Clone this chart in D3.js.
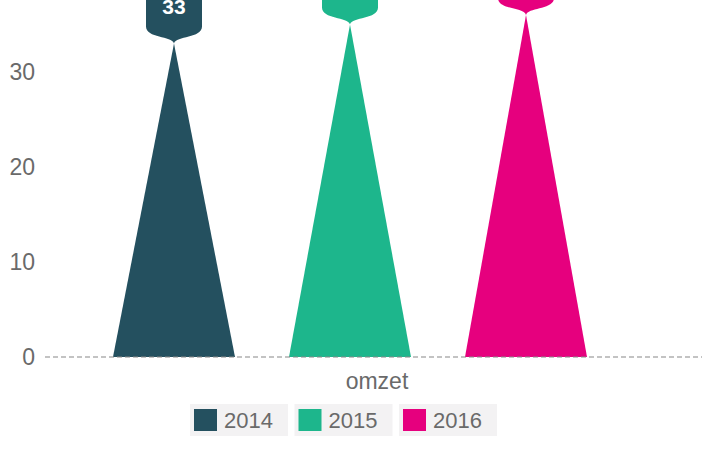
<!DOCTYPE html>
<meta charset="utf-8">
<script src="https://d3js.org/d3.v7.min.js"></script>
<style>
  body { margin: 0; background: #fff; }
  text { font-family: "Liberation Sans", Arial, sans-serif; }
</style>
<div id="chart"></div>
<script>
    // data
    var categories = ["omzet"]
    var series = ["2014", "2015", "2016"]
    var values = [33, 35, 36]
    var colors = ["#24505f", "#1db68c", "#e6007e"]
    var yTicks = [0, 10, 20, 30]

    var width = 702, height = 453

    var svg = d3.select("#chart")
      .append("svg")
        .attr("width", width)
        .attr("height", height)

    // scales
    var x = d3.scalePoint()
        .domain(series)
        .range([86, 614])
        .padding(0.5)

    var y = d3.scaleLinear()
        .domain([0, 30])
        .range([357, 72])

    var halfBase = 61

    // y axis (labels only)
    var yAxis = svg.append("g")
        .attr("transform", "translate(35,0)")
        .call(d3.axisLeft(y).tickValues(yTicks).tickSize(0).tickPadding(0))
    yAxis.select(".domain").remove()
    yAxis.selectAll("text")
        .style("font-size", "23px")
        .style("fill", "#6a6a6a")
        .style("font-family", "'Liberation Sans', Arial, sans-serif")

    // triangles
    svg.selectAll(".spike")
      .data(values)
      .enter()
      .append("path")
        .attr("class", "spike")
        .attr("fill", function(d, i){ return colors[i] })
        .attr("d", function(d, i){
            var cx = x(series[i])
            return "M" + (cx - halfBase) + "," + y(0) +
                   "L" + cx + "," + y(d) +
                   "L" + (cx + halfBase) + "," + y(0) + "Z"
        })

    // zero line, dashed
    svg.append("line")
        .attr("x1", 45).attr("x2", width)
        .attr("y1", y(0)).attr("y2", y(0))
        .attr("stroke", "#888")
        .attr("stroke-width", 1.2)
        .attr("stroke-dasharray", "5,3")

    // pin markers: flat-sided body with rounded shoulders tapering into a tip
    function pinPath(tx, ty) {
        var hw = 28, top = ty - 66, shoulder = ty - 17, cr = 14
        var p = d3.path()
        p.moveTo(tx, ty)
        p.bezierCurveTo(tx - 2, ty - 8, tx - hw, ty - 5, tx - hw, shoulder)
        p.lineTo(tx - hw, top + cr)
        p.quadraticCurveTo(tx - hw, top, tx - hw + cr, top)
        p.lineTo(tx + hw - cr, top)
        p.quadraticCurveTo(tx + hw, top, tx + hw, top + cr)
        p.lineTo(tx + hw, shoulder)
        p.bezierCurveTo(tx + hw, ty - 5, tx + 2, ty - 8, tx, ty)
        p.closePath()
        return p.toString()
    }

    svg.selectAll(".pin")
      .data(values)
      .enter()
      .append("path")
        .attr("class", "pin")
        .attr("fill", function(d, i){ return colors[i] })
        .attr("d", function(d, i){ return pinPath(x(series[i]), y(d)) })

    svg.selectAll(".pinLabel")
      .data(values)
      .enter()
      .append("text")
        .attr("class", "pinLabel")
        .attr("x", function(d, i){ return x(series[i]) })
        .attr("y", function(d){ return y(d) - 37 })
        .attr("text-anchor", "middle")
        .attr("dominant-baseline", "central")
        .style("font-size", "21px")
        .style("font-weight", "bold")
        .style("fill", "#fff")
        .text(function(d){ return d })

    // category label
    svg.append("text")
        .attr("x", 377)
        .attr("y", 381)
        .attr("text-anchor", "middle")
        .attr("dominant-baseline", "central")
        .style("font-size", "23px")
        .style("fill", "#6a6a6a")
        .text(categories[0])

    // legend
    var legend = svg.selectAll(".legendItem")
      .data(series)
      .enter()
      .append("g")
        .attr("class", "legendItem")
        .attr("transform", function(d, i){ return "translate(" + (190 + i * 104.5) + ",404)" })

    legend.append("rect")
        .attr("width", 98).attr("height", 32)
        .attr("fill", "#f3f2f3")

    legend.append("rect")
        .attr("x", 4).attr("y", 5)
        .attr("width", 23).attr("height", 22)
        .attr("fill", function(d, i){ return colors[i] })

    legend.append("text")
        .attr("x", 34).attr("y", 16)
        .attr("dominant-baseline", "central")
        .style("font-size", "22px")
        .style("fill", "#6a6a6a")
        .text(function(d){ return d })
</script>
